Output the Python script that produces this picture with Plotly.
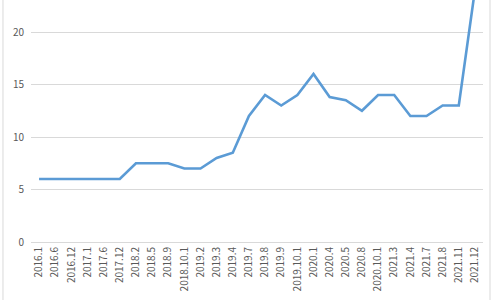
import plotly.graph_objects as go

categories = ["2016.1", "2016.6", "2016.12", "2017.1", "2017.6", "2017.12", "2018.2", "2018.5",
              "2018.9", "2018.10.1", "2019.2", "2019.3", "2019.4", "2019.7", "2019.8", "2019.9",
              "2019.10.1", "2020.1", "2020.4", "2020.5", "2020.8", "2020.10.1", "2021.3", "2021.4",
              "2021.7", "2021.8", "2021.11", "2021.12"]
values = [6, 6, 6, 6, 6, 6, 7.5, 7.5,
          7.5, 7, 7, 8, 8.5, 12, 14, 13,
          14, 16, 13.8, 13.5, 12.5, 14, 14, 12,
          12, 13, 13, 24]
y_ticks = [0, 5, 10, 15, 20]

fig = go.Figure()
fig.add_trace(go.Scatter(x=categories, y=values, mode="lines",
                         line=dict(color="#5B9BD5", width=2.6), showlegend=False))

font = "Noto Sans CJK SC"
fig.update_layout(
    width=500, height=300,
    margin=dict(l=31, r=17, t=0, b=58),
    paper_bgcolor="white", plot_bgcolor="white",
    xaxis=dict(type="category", range=[-0.5, 27.5], tickangle=-90,
               showgrid=False, showline=True, linecolor="#D9D9D9", linewidth=1,
               ticks="", tickfont=dict(family=font, size=10, color="#595959")),
    yaxis=dict(range=[0, 23.05], tickvals=y_ticks, showgrid=True, gridcolor="#D9D9D9",
               gridwidth=1, zeroline=False, showline=False, ticks="",
               tickfont=dict(family=font, size=10, color="#595959"), ticklabelstandoff=6),
    shapes=[
        dict(type="line", xref="paper", yref="paper", x0=-0.062, x1=-0.062, y0=-1, y1=2,
             line=dict(color="#D9D9D9", width=1)),
        dict(type="line", xref="paper", yref="paper", x0=1.0155, x1=1.0155, y0=-1, y1=2,
             line=dict(color="#D9D9D9", width=1)),
    ],
)
fig.write_html("out.html")
